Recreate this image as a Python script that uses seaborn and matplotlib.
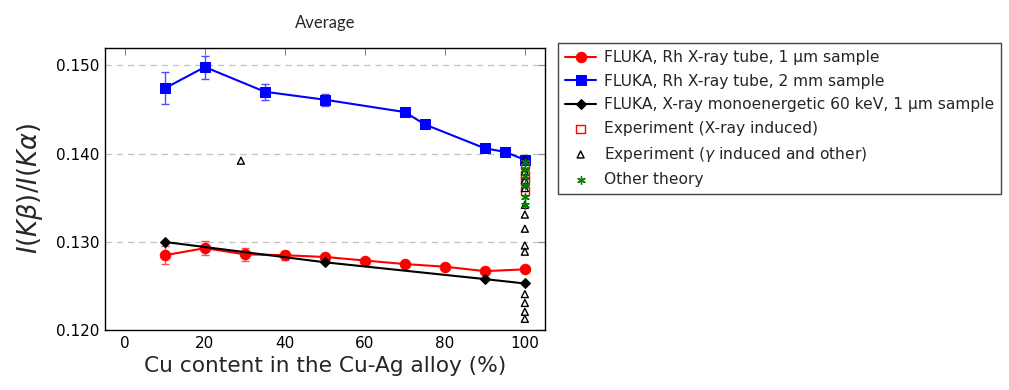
import numpy as np
import pandas as pd
import matplotlib
matplotlib.use('Agg')
import matplotlib.pyplot as plt
import seaborn as sns

sns.set_style('white')
plt.rcParams['font.family'] = ['DejaVu Sans']
plt.rcParams['mathtext.fontset'] = 'custom'
plt.rcParams['mathtext.it'] = 'DejaVu Sans:italic'
plt.rcParams['mathtext.rm'] = 'DejaVu Sans'

# FLUKA, Rh X-ray tube, 1 um sample
cu_red = [10, 20, 30, 40, 50, 60, 70, 80, 90, 100]
ratio_red = [0.1285, 0.1293, 0.1286, 0.1285, 0.1283, 0.1279, 0.1275, 0.1272, 0.1267, 0.1269]
err_red = [0.0010, 0.0008, 0.0007, 0.0005, 0.0003, 0.0002, 0.0002, 0.0002, 0.0002, 0.0002]

# FLUKA, Rh X-ray tube, 2 mm sample
cu_blue = [10, 20, 35, 50, 70, 75, 90, 95, 100]
ratio_blue = [0.1474, 0.1498, 0.1470, 0.1461, 0.1447, 0.1433, 0.1406, 0.1402, 0.1393]
err_blue = [0.0018, 0.0013, 0.0009, 0.0007, 0.0004, 0.0003, 0.0002, 0.0002, 0.0002]

# FLUKA, X-ray monoenergetic 60 keV, 1 um sample
cu_black = [10, 50, 90, 100]
ratio_black = [0.1300, 0.1277, 0.1258, 0.1253]

# Experiment (X-ray induced)
cu_exp_x = [100, 100, 100, 100]
ratio_exp_x = [0.1387, 0.1376, 0.1369, 0.1358]

# Experiment (gamma induced and other)
cu_exp_g = [29, 100, 100, 100, 100, 100, 100, 100, 100, 100, 100, 100, 100, 100]
ratio_exp_g = [0.1392, 0.1393, 0.1380, 0.1370, 0.1361, 0.1342, 0.1331, 0.1315,
               0.1296, 0.1289, 0.1241, 0.1231, 0.1221, 0.1213]

# Other theory
cu_theory = [100, 100, 100, 100, 100, 100]
ratio_theory = [0.1391, 0.1383, 0.1375, 0.1365, 0.1351, 0.1342]

labels = ['FLUKA, Rh X-ray tube, 1 µm sample',
          'FLUKA, Rh X-ray tube, 2 mm sample',
          'FLUKA, X-ray monoenergetic 60 keV, 1 µm sample',
          'Experiment (X-ray induced)',
          r'Experiment ($\gamma$ induced and other)',
          'Other theory']

fig = plt.figure(figsize=(10.09, 3.9), dpi=100)
ax = fig.add_axes([0.104, 0.153, 0.436, 0.725])

# error bars first (lighter colour)
ax.errorbar(cu_red, ratio_red, yerr=err_red, fmt='none', ecolor=(1, 0.3, 0.3),
            elinewidth=1.0, capsize=3, capthick=1.0, zorder=2)
ax.errorbar(cu_blue, ratio_blue, yerr=err_blue, fmt='none', ecolor=(0.3, 0.3, 1),
            elinewidth=1.0, capsize=3, capthick=1.0, zorder=2)

df_red = pd.DataFrame({'cu': cu_red, 'ratio': ratio_red})
df_blue = pd.DataFrame({'cu': cu_blue, 'ratio': ratio_blue})
df_black = pd.DataFrame({'cu': cu_black, 'ratio': ratio_black})

sns.lineplot(data=df_red, x='cu', y='ratio', color='red', marker='o', markersize=7.5,
             markeredgecolor='red', linewidth=1.5, ax=ax, zorder=3, label=labels[0])
sns.lineplot(data=df_blue, x='cu', y='ratio', color='blue', marker='s', markersize=6.5,
             markeredgecolor='blue', linewidth=1.5, ax=ax, zorder=3, label=labels[1])
sns.lineplot(data=df_black, x='cu', y='ratio', color='black', marker='D', markersize=5,
             markeredgecolor='black', linewidth=1.5, ax=ax, zorder=3, label=labels[2])

sns.scatterplot(x=cu_exp_x, y=ratio_exp_x, marker='s', s=36, facecolors='none',
                edgecolor='red', linewidth=1.0, ax=ax, zorder=4, label=labels[3])
sns.scatterplot(x=cu_exp_g, y=ratio_exp_g, marker='^', s=25, facecolors='none',
                edgecolor='black', linewidth=1.0, ax=ax, zorder=5, label=labels[4])
sns.scatterplot(x=cu_theory, y=ratio_theory, marker=(6, 2, 0), s=30,
                color='green', edgecolor='green', linewidth=1.0, ax=ax, zorder=6,
                label=labels[5])

ax.set_xlim(-5, 105)
ax.set_ylim(0.120, 0.152)
ax.set_xticks([0, 20, 40, 60, 80, 100])
ax.set_yticks([0.120, 0.130, 0.140, 0.150])
ax.set_yticklabels(['0.120', '0.130', '0.140', '0.150'])
ax.yaxis.grid(True, linestyle=(0, (5, 4)), color='#c0c0c0', linewidth=0.9)
ax.xaxis.grid(False)
ax.tick_params(direction='in', top=True, right=True, length=5, width=0.8,
               color='#888888', labelsize=11, labelcolor='black', pad=4)
for sp in ax.spines.values():
    sp.set_color('black')
    sp.set_linewidth(1.0)

ax.set_xlabel('Cu content in the Cu-Ag alloy (%)', fontsize=15.6)
ax.set_ylabel(r'$I(K\beta)/I(K\alpha)$', fontsize=18.5, labelpad=8)
ax.set_title('Average', fontsize=12, family='Lato', pad=14)

handles, _ = ax.get_legend_handles_labels()
ax.legend(handles, labels, loc='upper left', bbox_to_anchor=(1.03, 1.015),
          frameon=True, fancybox=False, edgecolor='#444444', framealpha=1,
          fontsize=11.2, handlelength=2.0, handletextpad=0.5, labelspacing=0.55,
          borderpad=0.45, borderaxespad=0)

fig.savefig('out.png', dpi=100)
